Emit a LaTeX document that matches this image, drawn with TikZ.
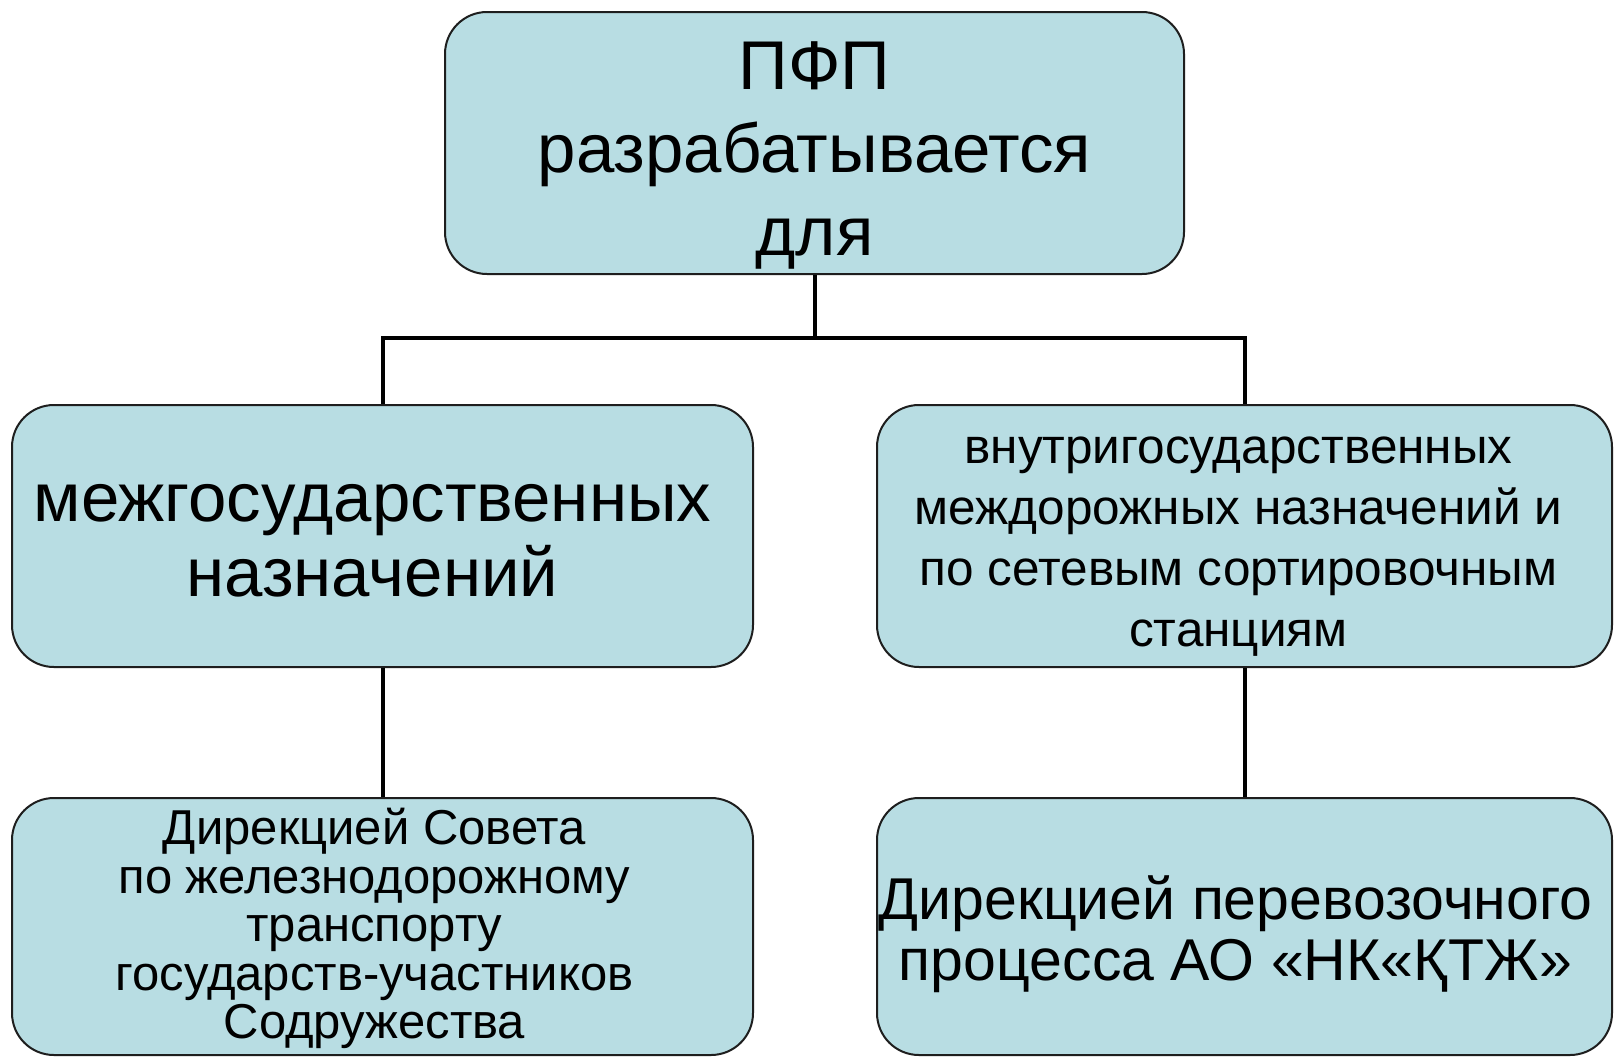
\documentclass[tikz,border=0pt]{standalone}
\usepackage{fontspec}
\setmainfont{Liberation Sans}
\definecolor{boxfill}{RGB}{184,221,227}
\definecolor{boxline}{RGB}{30,30,30}
\tikzset{
  box/.style={draw=boxline, line width=2pt, fill=boxfill, rounded corners=42pt,
    inner sep=0pt},
  boxtext/.style={align=center, inner sep=0pt, text=black},
  conn/.style={draw=black, line width=4pt}
}
\begin{document}
\begin{tikzpicture}[x=1pt,y=-1pt]
\useasboundingbox[fill=white] (0,0) rectangle (1614,1058);
\node[box, minimum width=739pt, minimum height=262pt] (top) at (814.5,143) {};
\node[boxtext, font=\fontsize{69}{83}\selectfont] (topT) at ([yshift=-12pt]top.center)
  {ПФП\\разрабатывается\\для};
\node[box, minimum width=741pt, minimum height=262pt] (ml) at (382.5,536) {};
\node[boxtext, font=\fontsize{69}{75}\selectfont] (mlT) at ([xshift=-10pt,yshift=-5pt]ml.center)
  {межгосударственных\\назначений};
\node[box, minimum width=735pt, minimum height=262pt] (mr) at (1244.5,536) {};
\node[boxtext, font=\fontsize{49.5}{61}\selectfont] (mrT) at ([xshift=-6pt,yshift=-11pt]mr.center)
  {внутригосударственных\\междорожных назначений и\\по сетевым сортировочным\\станциям};
\node[box, minimum width=741pt, minimum height=257pt] (bl) at (382.5,926.5) {};
\node[boxtext, font=\fontsize{49}{48.5}\selectfont] (blT) at ([xshift=-8pt,yshift=-2pt]bl.center)
  {Дирекцией Совета\\по железнодорожному\\транспорту\\государств-участников\\Содружества};
\node[box, minimum width=735pt, minimum height=257pt] (br) at (1244.5,926.5) {};
\node[boxtext, font=\fontsize{59}{61}\selectfont] (brT) at ([xshift=-9pt,yshift=-8pt]br.center)
  {Дирекцией перевозочного\\процесса АО «НК«ҚТЖ»};
\coordinate (split) at (814.5,338);
\draw[conn] (top.south) -- (split);
\draw[conn] (split) -| (ml.north);
\draw[conn] (split) -| (mr.north);
\draw[conn] (ml.south) -- (bl.north);
\draw[conn] (mr.south) -- (br.north);
\end{tikzpicture}
\end{document}
